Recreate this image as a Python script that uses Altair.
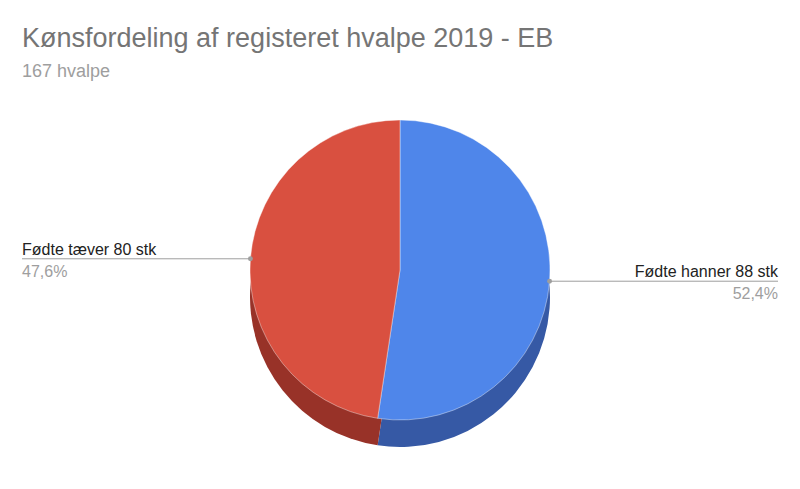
import math
import altair as alt
import pandas as pd

# ---- data ----
categories = ["Fødte hanner 88 stk", "Fødte tæver 80 stk"]
values = [88, 80]
colors_top = ["#4f86ea", "#d95040"]
colors_side = ["#3659a5", "#983228"]
title_text = "Kønsfordeling af registeret hvalpe 2019 - EB"
subtitle_text = "167 hvalpe"

# ---- layout constants ----
W, H = 784, 356
R = 150            # pie radius in px
DEPTH = 27         # 3D depth in px
LABEL_X = 378 / R  # label anchor in pie-radius units
FONT = "Liberation Sans"

total = sum(values)
rows = []
cum = 0.0
for i, (c, v) in enumerate(zip(categories, values)):
    frac = v / total
    mid = (cum + frac / 2) * 2 * math.pi
    cum += frac
    ux, uy = math.sin(mid), math.cos(mid)
    side = 1 if ux >= 0 else -1
    rows.append(dict(order=i, category=c, value=v,
                     pct=f"{frac * 100:.1f}".replace(".", ",") + "%",
                     ux=ux, uy=uy, side=side, lx=side * LABEL_X))
df = pd.DataFrame(rows)

xs = alt.Scale(domain=[-W / 2 / R, W / 2 / R], nice=False, zero=False)
ys = alt.Scale(domain=[-H / 2 / R, H / 2 / R], nice=False, zero=False)

base = alt.Chart(df)

side_layer = base.mark_arc(outerRadius=R, yOffset=DEPTH).encode(
    theta=alt.Theta("value:Q", stack=True),
    order=alt.Order("order:Q"),
    color=alt.Color("category:N", scale=alt.Scale(domain=categories, range=colors_side), legend=None),
)

top_layer = base.mark_arc(outerRadius=R, stroke="#ffffff", strokeWidth=0.4).encode(
    theta=alt.Theta("value:Q", stack=True),
    order=alt.Order("order:Q"),
    fill=alt.Fill("category:N", scale=alt.Scale(domain=categories, range=colors_top), legend=None),
)

lines = base.mark_rule(color="#9e9e9e", strokeWidth=1).encode(
    x=alt.X("ux:Q", scale=xs, axis=None),
    x2="lx:Q",
    y=alt.Y("uy:Q", scale=ys, axis=None),
)

dots = base.mark_circle(color="#9e9e9e", size=24, opacity=1).encode(
    x=alt.X("ux:Q", scale=xs, axis=None),
    y=alt.Y("uy:Q", scale=ys, axis=None),
)

def labels(side, align):
    b = base.transform_filter(alt.datum.side == side)
    name = b.mark_text(align=align, baseline="alphabetic", dy=-4, fontSize=16,
                       font=FONT, color="#222222").encode(
        x=alt.X("lx:Q", scale=xs, axis=None),
        y=alt.Y("uy:Q", scale=ys, axis=None),
        text="category:N",
    )
    pct = b.mark_text(align=align, baseline="alphabetic", dy=18, fontSize=16,
                      font=FONT, color="#9e9e9e").encode(
        x=alt.X("lx:Q", scale=xs, axis=None),
        y=alt.Y("uy:Q", scale=ys, axis=None),
        text="pct:N",
    )
    return name + pct

chart = alt.layer(
    side_layer, top_layer, lines, dots, labels(1, "right"), labels(-1, "left")
).resolve_scale(color="independent").properties(
    width=W, height=H,
    padding={"left": 0, "top": 17, "right": 0, "bottom": 0},
    title=alt.TitleParams(
        text=title_text, subtitle=subtitle_text, anchor="start", dx=14,
        font=FONT, fontSize=27, fontWeight="normal", color="#757575",
        subtitleFont=FONT, subtitleFontSize=18, subtitleColor="#9e9e9e",
        subtitlePadding=10, offset=10,
    ),
).configure_view(stroke=None)

chart.save("out.html", embed_options={"renderer": "svg", "actions": False})
